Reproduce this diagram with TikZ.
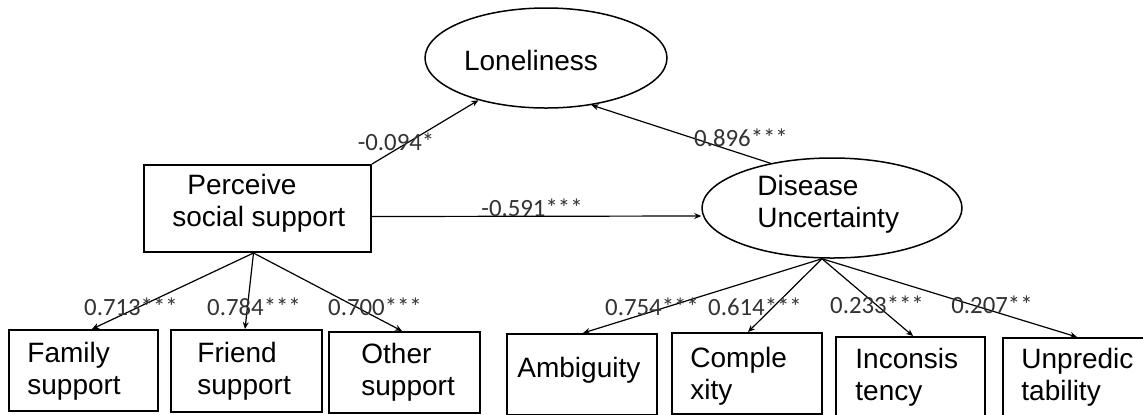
\documentclass[tikz,border=0pt]{standalone}
\usepackage{fontspec}
\setmainfont{Liberation Sans}
\newfontfamily\labfont{Carlito}
\usetikzlibrary{shapes.geometric,arrows.meta}
\begin{document}
\begin{tikzpicture}[x=0.5pt,y=-0.5pt,
  box/.style={draw, line width=1pt, rectangle, inner sep=0pt},
  oval/.style={draw, line width=0.75pt, ellipse, inner sep=0pt},
  txt/.style={font=\fontsize{14}{16}\selectfont, align=left, inner sep=0pt, anchor=west},
  lab/.style={font=\labfont\fontsize{12.4}{14}\selectfont, text=black!80, inner sep=0pt},
  arr/.style={-{Stealth[length=3.5pt,width=3pt]}, line width=0.6pt}]
\useasboundingbox (0,0) rectangle (1143,414);
\fill[white] (0,0) rectangle (1143,414);
\clip (0,0) rectangle (1143,414);
% latent variables
\node[oval, minimum width=121pt, minimum height=50pt] (Lon) at (546,58) {};
\node[oval, minimum width=130pt, minimum height=50pt] (Dis) at (832,208) {};
\node[txt, anchor=center] (Lont) at (531,60) {Loneliness};
\node[txt] (Dist) at (757,204) {Disease\\Uncertainty};
% perceived social support
\node[box, minimum width=113.5pt, minimum height=43.5pt] (Per) at (257.5,208.5) {};
\node[txt] (Pert) at (172,203) {\hspace*{7.5pt}Perceive\\social support};
% indicator boxes
\node[box, minimum width=74.5pt, minimum height=40.5pt] (Fam) at (83.5,370.5) {};
\node[box, minimum width=75.5pt, minimum height=41pt] (Fri) at (246.5,371) {};
\node[box, minimum width=75.5pt, minimum height=40.5pt] (Oth) at (404.5,372.5) {};
\node[box, minimum width=75pt, minimum height=40.5pt] (Amb) at (582,374.5) {};
\node[box, minimum width=75pt, minimum height=40.5pt] (Com) at (747,373.5) {};
\node[box, minimum width=74.5pt, minimum height=40.5pt] (Inc) at (910.5,377.5) {};
\node[box, minimum width=75pt, minimum height=40.5pt] (Unp) at (1078,378.5) {};
\node[txt] (Famt) at (27,371) {Family\\support};
\node[txt] (Frit) at (197,371) {Friend\\support};
\node[txt] (Otht) at (361,372) {Other\\support};
\node[txt] (Ambt) at (517,370) {Ambiguity};
\node[txt] (Comt) at (690,376) {Comple\\xity};
\node[txt] (Inct) at (855,377.5) {Inconsis\\tency};
\node[txt] (Unpt) at (1021,377) {Unpredic\\tability};
% structural paths
\draw[arr] (Per.north east) -- (Lon.212.5);
\draw[arr] (Dis.144) -- (Lon.314.4);
\draw[arr] ([yshift=-4pt]Per.east) -- ([yshift=-4pt]Dis.west);
% measurement paths
\draw[arr] ([xshift=-2pt]Per.south) -- ([xshift=4.25pt]Fam.north);
\draw[arr] ([xshift=-2pt]Per.south) -- ([xshift=-0.75pt]Fri.north);
\draw[arr] ([xshift=-2pt]Per.south) -- ([xshift=-1.25pt]Oth.north);
\draw[arr] ([xshift=-5pt]Dis.south) -- ([xshift=0.5pt]Amb.north);
\draw[arr] ([xshift=-5pt]Dis.south) -- ([xshift=0.5pt]Com.north);
\draw[arr] ([xshift=-5pt]Dis.south) -- ([xshift=1.25pt]Inc.north);
\draw[arr] ([xshift=-5pt]Dis.south) -- ([xshift=-0.5pt]Unp.north);
% coefficients
\node[lab] (l1) at (396,142) {-0.094*};
\node[lab] (l2) at (741,138) {0.896***};
\node[lab] (l3) at (532,208) {-0.591***};
\node[lab] (l4) at (131,307) {0.713***};
\node[lab] (l5) at (254,307) {0.784***};
\node[lab] (l6) at (375,307) {0.700***};
\node[lab] (l7) at (652,307) {0.754***};
\node[lab] (l8) at (755,307) {0.614***};
\node[lab] (l9) at (877,305) {0.233***};
\node[lab] (l10) at (992,305) {0.207**};
\end{tikzpicture}
\end{document}
